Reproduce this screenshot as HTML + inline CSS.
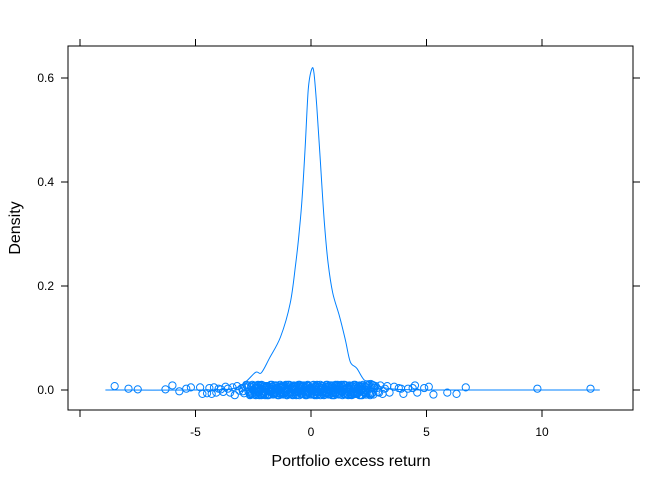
<!DOCTYPE html>
<html><head><meta charset="utf-8"><style>
body{margin:0;background:#fff;font-family:"Liberation Sans",sans-serif}
svg text{font-family:"Liberation Sans",sans-serif}
</style></head><body>
<svg id="chart" width="672" height="480" viewBox="0 0 672 480" xmlns="http://www.w3.org/2000/svg">
<rect x="68" y="46" width="565" height="364" fill="none" stroke="#000"/>
<g id="axes"></g>
<g id="pts"></g>
<path id="curve" fill="none" stroke="#0080ff" stroke-width="1"/>
<text x="351" y="466" text-anchor="middle" font-size="16">Portfolio excess return</text>
<text transform="translate(20,228) rotate(-90)" text-anchor="middle" font-size="16">Density</text>
</svg>
<script>
const xTicks=[-10,-5,0,5,10];
const xTickLabels=["","-5","0","5","10"];
const yTicks=[0,0.2,0.4,0.6];
const yTickLabels=["0.0","0.2","0.4","0.6"];
const curveX=[-8.9,-5,-3.5,-2.9,-2.4,-2.15,-1.8,-1.32,-0.9,-0.66,-0.5,-0.38,-0.25,-0.12,0.03,0.13,0.25,0.41,0.58,0.74,0.94,1.24,1.49,1.7,1.98,2.31,2.64,2.9,3.55,5,8,12.5];
const curveY=[0,0,0.002,0.013,0.034,0.033,0.061,0.102,0.167,0.244,0.308,0.372,0.468,0.577,0.617,0.609,0.545,0.436,0.321,0.244,0.187,0.141,0.096,0.054,0.042,0.019,0.018,0.008,0.002,0,0,0];
const ptX=[-8.5,-7.9,-7.5,-6.3,-6.0,-5.7,-5.4,-5.2,-4.8,-4.7,-4.5,-4.4,-4.3,-4.2,-4.1,-4.0,-3.9,-3.8,-3.7,-3.6,-3.5,-3.4,-3.3,-3.2,-3.1,-3.0,-2.9,-2.8,-2.7,-2.6,-2.5,-2.4,-2.3,-2.2,-2.1,-2.0,-1.9,-1.8,-1.7,-1.6,-1.5,-1.4,-1.3,-1.2,-1.1,-1.0,-0.9,-0.8,-0.7,-0.6,-0.5,-0.4,-0.3,-0.2,-0.1,0,0.1,0.2,0.3,0.4,0.5,0.6,0.7,0.8,0.9,1.0,1.1,1.2,1.3,1.4,1.5,1.6,1.7,1.8,1.9,2.0,2.1,2.2,2.3,2.4,2.5,2.6,2.7,2.8,2.9,3.0,3.1,3.2,3.3,3.4,3.6,3.8,3.9,4.0,4.2,4.4,4.5,4.6,4.9,5.1,5.3,5.9,6.3,6.7,9.8,12.1,
-2.95,-2.75,-2.55,-2.35,-2.15,-1.95,-1.75,-1.55,-1.35,-1.15,-0.95,-0.75,-0.55,-0.35,-0.15,0.05,0.25,0.45,0.65,0.85,1.05,1.25,1.45,1.65,1.85,2.05,2.25,2.45,2.65,2.85,
-2.85,-2.65,-2.45,-2.25,-2.05,-1.85,-1.65,-1.45,-1.25,-1.05,-0.85,-0.65,-0.45,-0.25,-0.05,0.15,0.35,0.55,0.75,0.95,1.15,1.35,1.55,1.75,1.95,2.15,2.35,2.55,2.75,2.95,
-2.52,-2.42,-2.32,-2.22,-2.12,-2.02,-1.92,-1.82,-1.72,-1.62,-1.52,-1.42,-1.32,-1.22,-1.12,-1.02,-0.92,-0.82,-0.72,-0.62,-0.52,-0.42,-0.32,-0.22,-0.12,-0.02,0.08,0.18,0.28,0.38,0.48,0.58,0.68,0.78,0.88,0.98,1.08,1.18,1.28,1.38,1.48,1.58,1.68,1.78,1.88,1.98,2.08,2.18,2.28,2.38,
-2.47,-2.37,-2.27,-2.17,-2.07,-1.97,-1.87,-1.77,-1.67,-1.57,-1.47,-1.37,-1.27,-1.17,-1.07,-0.97,-0.87,-0.77,-0.67,-0.57,-0.47,-0.37,-0.27,-0.17,-0.07,0.03,0.13,0.23,0.33,0.43,0.53,0.63,0.73,0.83,0.93,1.03,1.13,1.23,1.33,1.43,1.53,1.63,1.73,1.83,1.93,2.03,2.13,2.23,2.33,2.43,
-2.69,-2.59,-2.49,-2.39,-2.29,-2.19,-2.09,-1.99,-1.89,-1.79,-1.69,-1.59,-1.49,-1.39,-1.29,-1.19,-1.09,-0.99,-0.89,-0.79,-0.69,-0.59,-0.49,-0.39,-0.29,-0.19,-0.09,0.01,0.11,0.21,0.31,0.41,0.51,0.61,0.71,0.81,0.91,1.01,1.11,1.21,1.31,1.41,1.51,1.61,1.71,1.81,1.91,2.01,2.11,2.21,2.31,2.41,2.51,2.61,2.71,
-2.64,-2.54,-2.44,-2.34,-2.24,-2.14,-2.04,-1.94,-1.84,-1.74,-1.64,-1.54,-1.44,-1.34,-1.24,-1.14,-1.04,-0.94,-0.84,-0.74,-0.64,-0.54,-0.44,-0.34,-0.24,-0.14,-0.04,0.06,0.16,0.26,0.36,0.46,0.56,0.66,0.76,0.86,0.96,1.06,1.16,1.26,1.36,1.46,1.56,1.66,1.76,1.86,1.96,2.06,2.16,2.26,2.36,2.46,2.56,2.66];
const ptJ=[0.006,0.002,0.001,0.001,0.007,-0.002,0.002,0.004,0.004,-0.006,-0.005,0.003,-0.006,0.004,-0.004,0.002,0.001,-0.003,0.005,0.002,-0.004,0.004,-0.008,0.006,-0.001,0.003,-0.005,0.008,-0.003,0.005,-0.007,0.002,-0.004,0.007,-0.006,0.003,-0.008,0.005,-0.002,0.007,-0.005,0.001,-0.007,0.006,-0.003,0.008,-0.006,0.002,-0.004,0.006,-0.008,0.004,-0.001,0.007,-0.005,0.003,-0.007,0.006,-0.002,0.008,-0.006,0.001,-0.004,0.007,-0.008,0.003,-0.005,0.006,-0.002,0.008,-0.007,0.004,-0.003,0.006,-0.006,0.002,-0.008,0.005,-0.004,0.007,-0.005,0.004,-0.007,0.006,-0.003,0.007,-0.006,0.002,0.006,-0.004,0.005,0.003,0.002,-0.006,0.002,0.003,0.007,-0.004,0.003,0.005,-0.007,-0.004,-0.006,0.004,0.002,0.002,
-0.002,0.005,-0.006,0.003,-0.008,0.006,-0.003,0.007,-0.005,0.002,-0.007,0.005,-0.002,0.007,-0.006,0.004,-0.008,0.003,-0.005,0.007,-0.004,0.006,-0.007,0.002,-0.006,0.005,-0.003,0.007,-0.005,0.003,
0.004,-0.006,0.007,-0.003,0.005,-0.007,0.002,-0.005,0.006,-0.008,0.003,-0.004,0.007,-0.006,0.002,-0.007,0.005,-0.002,0.006,-0.005,0.008,-0.003,0.004,-0.007,0.006,-0.002,0.005,-0.006,0.003,-0.004,
0.000,-0.004,0.004,-0.001,0.002,-0.003,0.005,-0.002,0.001,-0.005,0.003,0.000,-0.003,0.004,-0.001,0.002,-0.004,0.005,0.000,-0.002,0.003,-0.005,0.001,0.004,-0.003,0.002,-0.001,0.005,-0.004,0.000,0.003,-0.002,0.001,-0.005,0.004,0.000,-0.003,0.002,-0.001,0.005,-0.004,0.003,0.000,-0.002,0.004,-0.005,0.001,0.002,-0.003,0.000,
-0.001,0.003,-0.003,0.001,-0.005,0.004,0.000,-0.002,0.005,-0.004,0.002,-0.001,0.003,-0.005,0.001,0.004,-0.003,0.000,0.002,-0.004,0.005,-0.001,0.003,-0.002,0.000,-0.005,0.004,-0.003,0.001,0.002,-0.004,0.005,0.000,-0.001,0.003,-0.005,0.002,0.004,-0.002,0.000,0.001,-0.003,0.005,-0.004,0.002,0.003,-0.001,0.000,-0.005,0.004,
0.007,-0.007,0.006,-0.008,0.008,-0.006,0.007,-0.008,0.006,-0.007,0.008,-0.006,0.007,-0.008,0.006,-0.007,0.008,-0.006,0.007,-0.008,0.006,-0.007,0.008,-0.006,0.007,-0.008,0.006,-0.007,0.008,-0.006,0.007,-0.008,0.006,-0.007,0.008,-0.006,0.007,-0.008,0.006,-0.007,0.008,-0.006,0.007,-0.008,0.006,-0.007,0.008,-0.006,0.007,-0.008,0.006,-0.007,0.008,-0.006,0.007,
-0.008,0.008,-0.007,0.007,-0.008,0.008,-0.006,0.006,-0.008,0.008,-0.007,0.007,-0.008,0.008,-0.006,0.006,-0.008,0.008,-0.007,0.007,-0.008,0.008,-0.006,0.006,-0.008,0.008,-0.007,0.007,-0.008,0.008,-0.006,0.006,-0.008,0.008,-0.007,0.007,-0.008,0.008,-0.006,0.006,-0.008,0.008,-0.007,0.007,-0.008,0.008,-0.006,0.006,-0.008,0.008,-0.007,0.007,-0.008,0.008];
const X0=311,XU=23.1,Y0=390,YU=520,JSCALE=1.25;
const sx=v=>X0+v*XU, sy=v=>Y0-v*YU;
const NS="http://www.w3.org/2000/svg";
const axes=document.getElementById('axes');
function mk(t,a,p){const e=document.createElementNS(NS,t);for(const k in a)e.setAttribute(k,a[k]);p.appendChild(e);return e;}
xTicks.forEach((t,i)=>{
 const x=sx(t);
 const b=mk('line',{x1:x,x2:x,y1:410,y2:417,stroke:'#000'},axes);
 
 
 const tp=mk('line',{x1:x,x2:x,y1:46,y2:39,stroke:'#000'},axes);
 
 
 if(xTickLabels[i]){const l=mk('text',{x:x,y:436,'text-anchor':'middle','font-size':12},axes);l.textContent=xTickLabels[i];
 
 }
});
yTicks.forEach((t,i)=>{
 const y=sy(t);
 const a=mk('line',{x1:61,x2:68,y1:y,y2:y,stroke:'#000'},axes);
 
 
 const r=mk('line',{x1:633,x2:640,y1:y,y2:y,stroke:'#000'},axes);
 
 
 const l=mk('text',{x:54,y:y+4,'text-anchor':'end','font-size':12},axes);l.textContent=yTickLabels[i];
 
 
});
const P=curveX.map((v,i)=>[sx(v),sy(curveY[i])]);
let d='M'+P[0][0].toFixed(1)+','+P[0][1].toFixed(1);
for(let i=0;i<P.length-1;i++){
 const p0=P[Math.max(0,i-1)],p1=P[i],p2=P[i+1],p3=P[Math.min(P.length-1,i+2)];
 const c1=[p1[0]+(p2[0]-p0[0])/6,p1[1]+(p2[1]-p0[1])/6];
 const c2=[p2[0]-(p3[0]-p1[0])/6,p2[1]-(p3[1]-p1[1])/6];
 d+='C'+c1[0].toFixed(1)+','+c1[1].toFixed(1)+' '+c2[0].toFixed(1)+','+c2[1].toFixed(1)+' '+p2[0].toFixed(1)+','+p2[1].toFixed(1);
}
document.getElementById('curve').setAttribute('d',d);
const pts=document.getElementById('pts');
ptX.forEach((v,i)=>{
 const c=mk('circle',{cx:sx(v),cy:sy((ptJ[i]||0)*JSCALE),r:3.6,fill:'none',stroke:'#0080ff','stroke-width':1},pts);
 
 
});
</script>
</body></html>
